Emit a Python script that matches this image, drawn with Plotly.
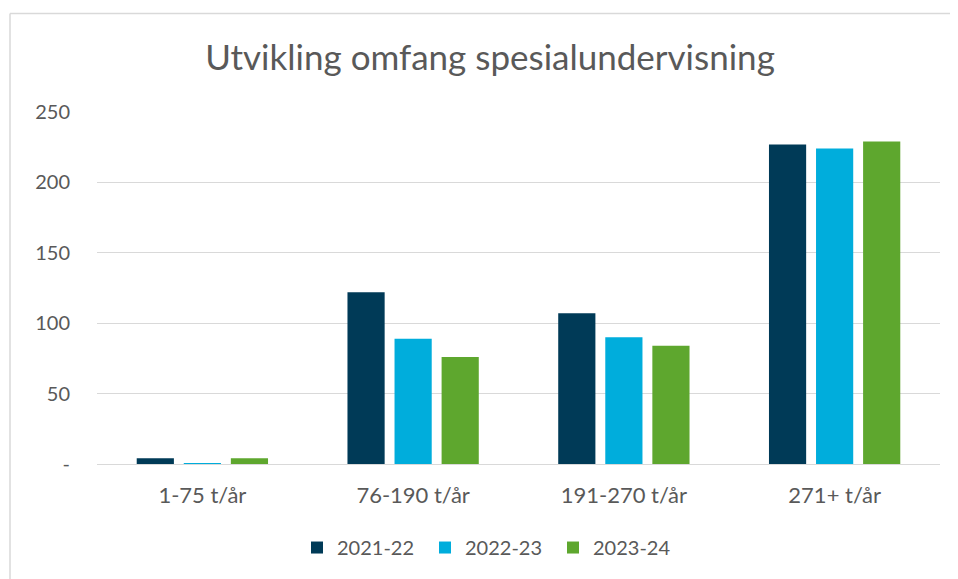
import plotly.graph_objects as go

categories = ["1-75 t/år", "76-190 t/år", "191-270 t/år", "271+ t/år"]
series_names = ["2021-22", "2022-23", "2023-24"]
v_2021_22 = [4, 122, 107, 227]
v_2022_23 = [0.6, 89, 90, 224]
v_2023_24 = [4, 76, 84, 229]
tick_vals = [0, 50, 100, 150, 200, 250]
tick_text = ["-", "50", "100", "150", "200", "250"]

colors = ["#003A57", "#00ADDC", "#5EA72E"]
FONT = "Lato"
GRAY = "#595959"

fig = go.Figure()
for name, vals, c in zip(series_names, [v_2021_22, v_2022_23, v_2023_24], colors):
    fig.add_trace(go.Bar(x=categories, y=vals, name=name, marker=dict(color=c, line=dict(width=0))))

OFF = 8  # page body margin
W, H = 958 - OFF, 579 - OFF
L, R, T, B = 97 - OFF, 18, 112 - OFF, 113
pw = W - L - R
ph = H - T - B

def px(x):
    # x given in reference-screen pixels
    return (x - OFF - L) / pw

def py(y):
    return (H - B - (y - OFF)) / ph

fig.update_layout(
    width=W, height=H,
    margin=dict(l=L, r=R, t=T, b=B),
    paper_bgcolor="white", plot_bgcolor="white",
    barmode="group", bargap=0.33, bargroupgap=0.21,
    font=dict(family=FONT, size=20, color=GRAY),
    title=dict(text="Utvikling omfang spesialundervisning", x=px(490), xref="paper", xanchor="center",
               y=1 - (58 - OFF) / H, yanchor="middle", font=dict(family=FONT, size=35, color=GRAY)),
    xaxis=dict(showgrid=False, showline=True, linecolor="#D9D9D9", linewidth=1, ticks="",
               tickfont=dict(size=22, color=GRAY), ticklabelstandoff=12),
    yaxis=dict(range=[0, 250], tickvals=tick_vals, ticktext=tick_text, showgrid=True,
               gridcolor="#D9D9D9", gridwidth=1, zeroline=False, showline=False,
               tickfont=dict(size=20, color=GRAY), ticklabelstandoff=26),
    legend=dict(orientation="h", x=px(489), xanchor="center", y=py(550), yanchor="middle",
                font=dict(size=20, color=GRAY), itemwidth=30, entrywidth=83, traceorder="normal"),
    shapes=[
        dict(type="line", xref="paper", yref="paper", x0=px(10), x1=px(970), y0=py(13), y1=py(13),
             line=dict(color="#D9D9D9", width=1.5)),
        dict(type="line", xref="paper", yref="paper", x0=px(10), x1=px(10), y0=py(13), y1=py(600),
             line=dict(color="#D9D9D9", width=1.5)),
    ],
)

fig.write_html("out.html")
